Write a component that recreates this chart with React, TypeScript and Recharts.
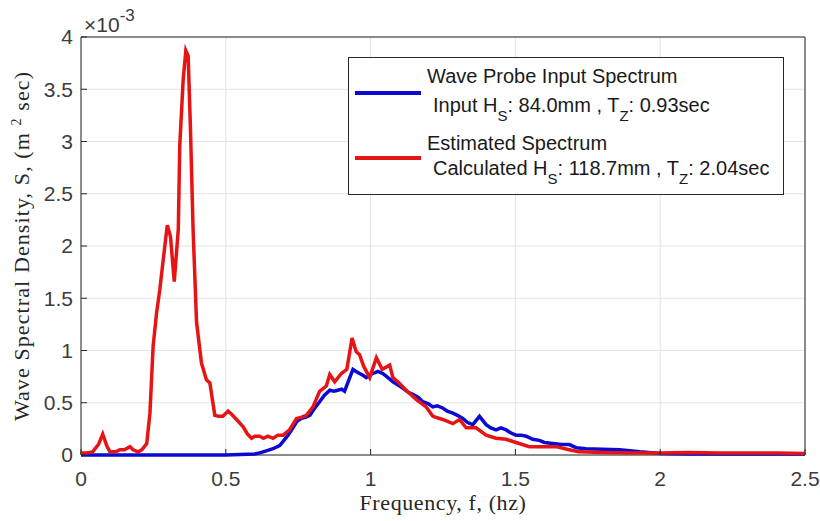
import {
    CartesianGrid,
    Label,
    Legend,
    Line,
    LineChart,
    ReferenceArea,
    XAxis,
    YAxis
} from "recharts";

// spectral density values are in units of 1e-3 m^2 sec
const inputFreq = [
    0, 0.1, 0.2, 0.3, 0.4, 0.5, 0.55, 0.6, 0.617, 0.64, 0.663, 0.686, 0.698, 0.715, 0.732, 0.745,
    0.761, 0.775, 0.79, 0.805, 0.824, 0.84, 0.859, 0.873, 0.887, 0.9, 0.91, 0.925, 0.939, 0.95,
    0.962, 0.975, 0.985, 1.0, 1.008, 1.025, 1.042, 1.06, 1.077, 1.095, 1.111, 1.13, 1.146, 1.165,
    1.18, 1.2, 1.215, 1.23, 1.249, 1.265, 1.284, 1.3, 1.318, 1.335, 1.353, 1.376, 1.399, 1.415,
    1.433, 1.45, 1.468, 1.485, 1.502, 1.52, 1.537, 1.56, 1.583, 1.6, 1.629, 1.66, 1.686, 1.71,
    1.744, 1.8, 1.86, 1.93, 2.0, 2.1, 2.2, 2.3, 2.4, 2.5
];
const inputDensity = [
    0, 0, 0, 0, 0, 0, 0.005, 0.01, 0.02, 0.04, 0.06, 0.09, 0.13, 0.19, 0.26, 0.32,
    0.35, 0.36, 0.38, 0.44, 0.51, 0.57, 0.62, 0.61, 0.62, 0.63, 0.61, 0.72, 0.82, 0.8,
    0.78, 0.76, 0.74, 0.77, 0.78, 0.8, 0.78, 0.74, 0.7, 0.67, 0.64, 0.6, 0.58, 0.55,
    0.51, 0.49, 0.46, 0.47, 0.45, 0.42, 0.4, 0.38, 0.35, 0.31, 0.29, 0.37, 0.29, 0.26,
    0.24, 0.26, 0.24, 0.21, 0.19, 0.19, 0.18, 0.15, 0.14, 0.12, 0.11, 0.1, 0.1, 0.07,
    0.06, 0.055, 0.05, 0.03, 0.015, 0.01, 0.01, 0.01, 0.01, 0.01
];

const estimatedFreq = [
    0, 0.02, 0.04, 0.06, 0.075, 0.09, 0.1, 0.12, 0.134, 0.15, 0.169, 0.18, 0.197, 0.21, 0.227,
    0.238, 0.249, 0.261, 0.272, 0.284, 0.298, 0.309, 0.322, 0.336, 0.341, 0.353, 0.362, 0.37,
    0.378, 0.387, 0.399, 0.416, 0.433, 0.445, 0.462, 0.475, 0.49, 0.508, 0.52, 0.537, 0.56,
    0.575, 0.589, 0.6, 0.617, 0.63, 0.645, 0.663, 0.68, 0.698, 0.72, 0.744, 0.76, 0.778, 0.801,
    0.824, 0.847, 0.859, 0.876, 0.899, 0.918, 0.936, 0.95, 0.962, 0.976, 0.997, 1.02, 1.04,
    1.066, 1.077, 1.094, 1.123, 1.158, 1.192, 1.215, 1.249, 1.284, 1.307, 1.33, 1.364, 1.399,
    1.433, 1.468, 1.502, 1.548, 1.59, 1.64, 1.686, 1.72, 1.8, 1.9, 2.0, 2.1, 2.2, 2.3, 2.4, 2.5
];
const estimatedDensity = [
    0.02, 0.02, 0.03, 0.1, 0.2, 0.08, 0.03, 0.03, 0.05, 0.05, 0.08, 0.05, 0.03, 0.05, 0.11,
    0.4, 1.04, 1.36, 1.58, 1.87, 2.2, 2.09, 1.66, 2.16, 2.96, 3.6, 3.87, 3.82,
    3.12, 2.16, 1.27, 0.88, 0.72, 0.69, 0.38, 0.37, 0.37, 0.42, 0.39, 0.34, 0.27,
    0.2, 0.16, 0.18, 0.18, 0.16, 0.18, 0.16, 0.19, 0.19, 0.24, 0.35, 0.36, 0.38, 0.46,
    0.61, 0.66, 0.77, 0.7, 0.78, 0.82, 1.12, 0.99, 0.96, 0.85, 0.74, 0.93, 0.82,
    0.86, 0.74, 0.7, 0.62, 0.53, 0.46, 0.37, 0.34, 0.3, 0.34, 0.26, 0.26, 0.19,
    0.16, 0.15, 0.12, 0.08, 0.08, 0.08, 0.05, 0.03, 0.025, 0.02, 0.02, 0.025, 0.02, 0.02, 0.02, 0.015
];

const xTicks = [0, 0.5, 1, 1.5, 2, 2.5];
const yTicks = [0, 0.5, 1, 1.5, 2, 2.5, 3, 3.5, 4];

const inputData = inputFreq.map((f, i) => ({ f, s: inputDensity[i] }));
const estimatedData = estimatedFreq.map((f, i) => ({ f, s: estimatedDensity[i] }));

const BLUE = "#0a0ad2";
const RED = "#e61414";
const TEXT = "#262626";
const TICK = "#3c3c3c";
const SANS = "'Liberation Sans', Arial, sans-serif";
const SERIF = "'Liberation Serif', 'Times New Roman', serif";

const YAxisTitle = ({ viewBox }: any) => {
    const cy = viewBox.y + viewBox.height / 2;
    return (
        <g>
            <text transform={`translate(29,${cy}) rotate(-90)`} textAnchor="middle" fontFamily={SERIF} fontSize={22} letterSpacing={1.1} fill={TEXT}>
                Wave Spectral Density, S, (m <tspan dy={-8} fontSize={14}>2</tspan><tspan dy={8}> sec)</tspan>
            </text>
            <text x={84} y={32} fontFamily={SANS} fontSize={21} fill={TICK}>
                ×10<tspan dy={-11} fontSize={17}>-3</tspan>
            </text>
        </g>
    );
};

const XAxisTitle = ({ viewBox }: any) => (
    <text x={viewBox.x + viewBox.width / 2} y={510} textAnchor="middle" fontFamily={SERIF} fontSize={22} letterSpacing={0.6} fill={TEXT}>
        Frequency, f, (hz)
    </text>
);

const sub = (t: string) => <tspan dy={9} fontSize={15}>{t}</tspan>;

const LegendBox = () => (
    <svg width={436} height={138} style={{ display: "block" }}>
        <rect x={0.5} y={0.5} width={435} height={137} fill="#fff" stroke={TEXT} />
        <line x1={7} x2={73} y1={36} y2={36} stroke={BLUE} strokeWidth={4} />
        <line x1={7} x2={73} y1={101} y2={101} stroke={RED} strokeWidth={4} />
        <g fontFamily={SANS} fontSize={20} fill="#1a1a1a">
            <text x={79} y={26}>Wave Probe Input Spectrum</text>
            <text x={85} y={55}>
                Input H{sub("S")}<tspan dy={-9}>: 84.0mm , T</tspan>{sub("Z")}<tspan dy={-9}>: 0.93sec</tspan>
            </text>
            <text x={79} y={93}>Estimated Spectrum</text>
            <text x={85} y={118}>
                Calculated H{sub("S")}<tspan dy={-9}>: 118.7mm , T</tspan>{sub("Z")}<tspan dy={-9}>: 2.04sec</tspan>
            </text>
        </g>
    </svg>
);

const App = () => {
    return (
        <div style={{ position: "absolute", left: 0, top: 0, width: 820, height: 521, background: "#fff" }}>
            <LineChart width={820} height={521} margin={{ top: 37, right: 15, bottom: 0, left: 0 }}>
                <CartesianGrid stroke="#e3e3e3" />
                <XAxis
                    dataKey="f"
                    type="number"
                    domain={[0, 2.5]}
                    ticks={xTicks}
                    height={66}
                    axisLine={false}
                    tickLine={{ stroke: TEXT }}
                    tickSize={-6}
                    tickMargin={22}
                    fontSize={21}
                    tick={{ fontSize: 21, fill: TICK, fontFamily: SANS }}
                    allowDuplicatedCategory={false}
                >
                    <Label content={XAxisTitle} />
                </XAxis>
                <XAxis
                    xAxisId="top"
                    orientation="top"
                    type="number"
                    domain={[0, 2.5]}
                    ticks={xTicks}
                    height={0}
                    axisLine={false}
                    tickLine={{ stroke: TEXT }}
                    tickSize={-6}
                    tick={false}
                />
                <YAxis
                    type="number"
                    domain={[0, 4]}
                    ticks={yTicks}
                    width={81}
                    axisLine={false}
                    tickLine={{ stroke: TEXT }}
                    tickSize={-6}
                    tickMargin={14}
                    fontSize={21}
                    tick={{ fontSize: 21, fill: TICK, fontFamily: SANS }}
                >
                    <Label content={YAxisTitle} />
                </YAxis>
                <YAxis
                    yAxisId="right"
                    orientation="right"
                    type="number"
                    domain={[0, 4]}
                    ticks={yTicks}
                    width={0}
                    axisLine={false}
                    tickLine={{ stroke: TEXT }}
                    tickSize={-6}
                    tick={false}
                />
                <ReferenceArea x1={0} x2={2.5} y1={0} y2={4} fill="none" stroke={TEXT} strokeWidth={1} fillOpacity={0} />
                <Legend
                    layout="horizontal"
                    verticalAlign="middle"
                    align="center"
                    content={LegendBox}
                    wrapperStyle={{ position: "absolute", left: 348, top: 57, width: 436, height: 138 }}
                />
                <Line data={inputData} dataKey="s" type="linear" stroke={BLUE} strokeWidth={3.5} dot={false} isAnimationActive={false} />
                <Line data={estimatedData} dataKey="s" type="linear" stroke={RED} strokeWidth={3.5} dot={false} isAnimationActive={false} />
            </LineChart>
        </div>
    );
};

export default App;
